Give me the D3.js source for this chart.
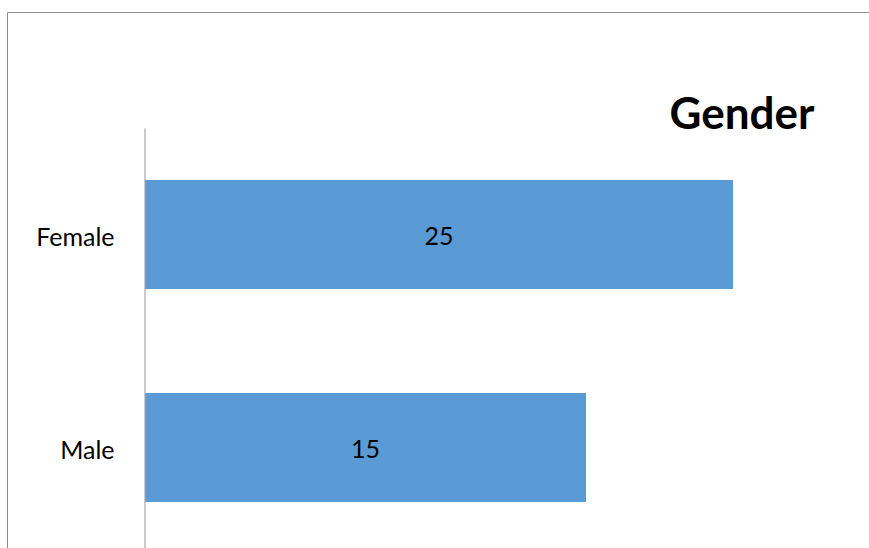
<!DOCTYPE html>
<html>
<head>
<meta charset="utf-8">
<script src="https://cdn.jsdelivr.net/npm/d3@7"></script>
<style>
  html, body { margin: 0; padding: 0; background: #fff; }
  svg { display: block; }
</style>
</head>
<body>
<svg id="chart" width="869" height="548"></svg>
<script>
const categories = ["Female", "Male"];
const values = [25, 15];
const title = "Gender";
const axisMin = -15; // horizontal axis origin value (bars start at the axis line)
const axisMax = 25;

const svg = d3.select("#chart");
const W = 869, H = 548;

// outer chart border (cropped: only top and left visible)
svg.append("path")
  .attr("d", `M7.5,${H} V12.5 H${W}`)
  .attr("fill", "none")
  .attr("stroke", "#8c8c8c")
  .attr("stroke-width", 1);

const x = d3.scaleLinear().domain([axisMin, axisMax]).range([145, 733]);
const y = d3.scaleBand().domain(categories).range([128, 554])
  .paddingInner(0.488).paddingOuter(0.244);

// bars
svg.append("g").selectAll("rect")
  .data(categories.map((c, i) => ({ c, v: values[i] })))
  .join("rect")
  .attr("x", x(axisMin))
  .attr("y", d => y(d.c))
  .attr("width", d => x(d.v) - x(axisMin))
  .attr("height", y.bandwidth())
  .attr("fill", "#5b9bd5");

// vertical category axis
const axis = svg.append("g")
  .attr("transform", `translate(${x(axisMin) - 0.5},0)`)
  .call(d3.axisLeft(y).tickSize(0).tickPadding(30));
axis.select(".domain").attr("stroke", "#a6a6a6").attr("stroke-width", 1.2);
axis.selectAll("text")
  .attr("font-family", "Lato, 'Open Sans', sans-serif")
  .attr("font-size", 25)
  .attr("dy", "0.45em")
  .attr("fill", "#000");

// value labels, centred in bars
svg.append("g").selectAll("text")
  .data(categories.map((c, i) => ({ c, v: values[i] })))
  .join("text")
  .attr("x", d => (x(axisMin) + x(d.v)) / 2)
  .attr("y", d => y(d.c) + y.bandwidth() / 2 + 4)
  .attr("text-anchor", "middle")
  .attr("dominant-baseline", "middle")
  .attr("font-family", "Lato, 'Open Sans', sans-serif")
  .attr("font-size", 25)
  .attr("fill", "#000")
  .text(d => d.v);

// title
svg.append("text")
  .attr("x", 742)
  .attr("y", 129)
  .attr("text-anchor", "middle")
  .attr("font-family", "Lato, 'Open Sans', sans-serif")
  .attr("font-weight", "bold")
  .attr("font-size", 44)
  .attr("fill", "#000")
  .text(title);
</script>
</body>
</html>
